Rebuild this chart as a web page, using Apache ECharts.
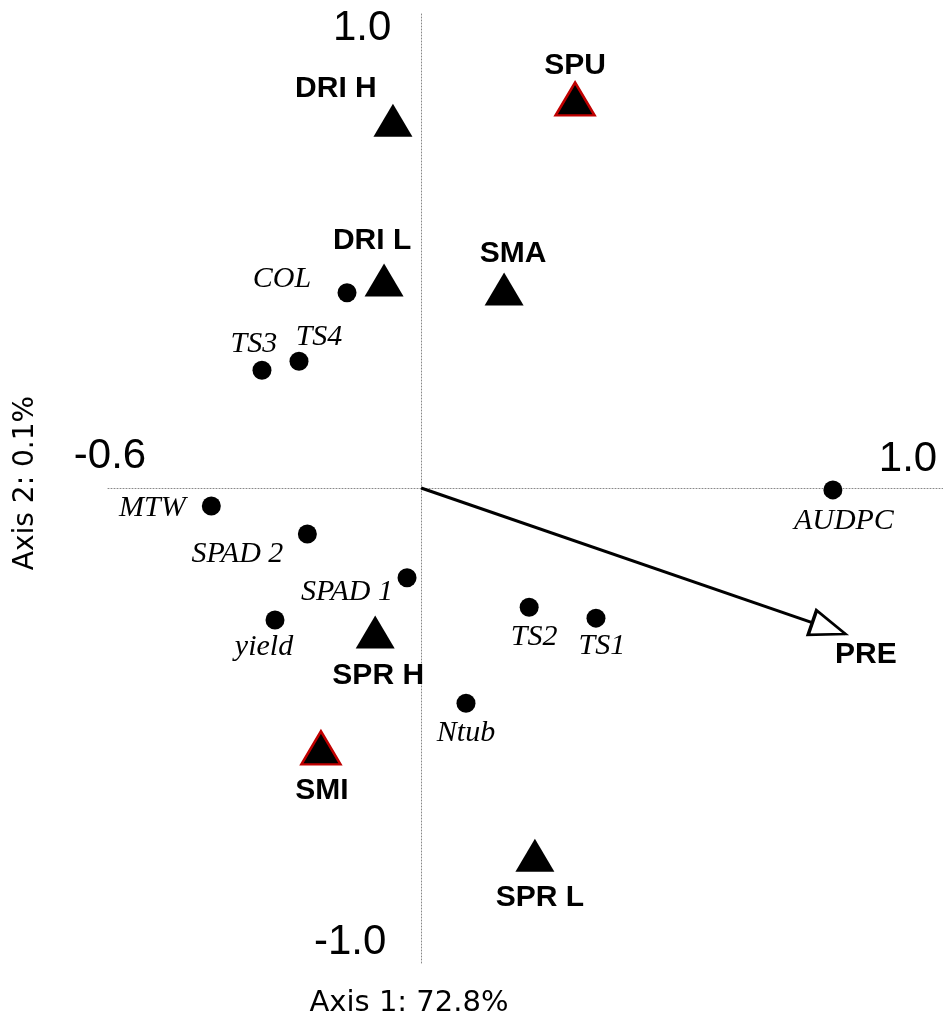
<!DOCTYPE html>
<html>
<head>
<meta charset="utf-8">
<title>Biplot</title>
<script src="https://cdn.jsdelivr.net/npm/echarts@6.0.0/dist/echarts.min.js"></script>
<style>
  html, body { margin: 0; padding: 0; background: #fff; }
  #chart { width: 943px; height: 1021px; }
</style>
</head>
<body>
<div id="chart"></div>
<script>
	"use strict";

	// sites (triangles)
	const siteNames = ["DRI H", "SPU", "DRI L", "SMA", "SPR H", "SMI", "SPR L"];
	const siteX = [-0.054, 0.295, -0.071, 0.159, -0.088, -0.192, 0.218];
	const siteY = [0.774, 0.819, 0.438, 0.419, -0.303, -0.547, -0.773];
	const redOutlined = ["SPU", "SMI"];

	// response variables (dots)
	const varNames = ["COL", "TS3", "TS4", "MTW", "SPAD 2", "SPAD 1", "yield", "TS2", "TS1", "Ntub", "AUDPC"];
	const varX = [-0.142, -0.305, -0.234, -0.402, -0.218, -0.027, -0.280, 0.207, 0.335, 0.086, 0.789];
	const varY = [0.411, 0.248, 0.267, -0.038, -0.097, -0.189, -0.278, -0.251, -0.274, -0.453, -0.004];

	// explanatory vector
	const vectorName = "PRE";
	const vectorEnd = [0.812, -0.307];

	// axis end labels
	const tickLabels = ["1.0", "-0.6", "1.0", "-1.0"];
	const tickPos = [[0, 1], [-0.6, 0], [1, 0], [0, -1]];

	const axis1Title = "Axis 1: 72.8%";
	const axis2Title = "Axis 2: 0.1%";

	// label placement (pixel offsets from the point)
	const labelOffset = {
		"DRI H": [-57, -32], "SPU": [0, -33], "DRI L": [-12, -39], "SMA": [9, -35],
		"SPR H": [3, 44], "SMI": [1, 43], "SPR L": [5, 43],
		"COL": [-65, -14], "TS3": [-8, -26], "TS4": [20, -24], "MTW": [-59, 2],
		"SPAD 2": [-70, 20], "SPAD 1": [-60, 14], "yield": [-11, 27],
		"TS2": [5, 30], "TS1": [6, 28], "Ntub": [0, 30], "AUDPC": [11, 31],
		"PRE": [37, 26]
	};
	const tickOffset = [[-59, 15], [2, -32], [-35, -29], [-71, -21]];

	const chart = echarts.init(document.getElementById("chart"), null, { renderer: "canvas" });

	const siteData = siteNames.map(function (n, i) {
		const item = {
			name: n,
			value: [siteX[i], siteY[i]],
			label: { offset: labelOffset[n] }
		};
		if (redOutlined.indexOf(n) >= 0) {
			item.itemStyle = { borderColor: "#c00000", borderWidth: 2.5 };
		}
		return item;
	});

	const varData = varNames.map(function (n, i) {
		return { name: n, value: [varX[i], varY[i]], label: { offset: labelOffset[n] } };
	});

	const tickData = tickLabels.map(function (t, i) {
		return { name: t, value: tickPos[i], label: { offset: tickOffset[i] } };
	});

	const dottedAxis = {
		show: true,
		onZero: true,
		lineStyle: { color: "#888", width: 1, type: [1, 2] }
	};

	const option = {
		animation: false,
		backgroundColor: "#fff",
		grid: { left: 108, right: 0, top: 13, bottom: 58 },
		xAxis: {
			type: "value", min: -0.6, max: 1.0,
			axisLine: dottedAxis, axisTick: { show: false },
			axisLabel: { show: false }, splitLine: { show: false }
		},
		yAxis: {
			type: "value", min: -1, max: 1,
			axisLine: dottedAxis, axisTick: { show: false },
			axisLabel: { show: false }, splitLine: { show: false }
		},
		graphic: [
			{
				type: "text", x: 409, y: 1003, silent: true,
				style: {
					text: axis1Title, font: "29px 'DejaVu Sans'", fill: "#000",
					align: "center", verticalAlign: "middle"
				}
			},
			{
				type: "text", x: 26, y: 483, rotation: Math.PI / 2, silent: true,
				style: {
					text: axis2Title, font: "28px 'DejaVu Sans'", fill: "#000",
					align: "center", verticalAlign: "middle"
				}
			}
		],
		series: [
			{
				// PRE arrow, open head at the tip
				type: "line",
				silent: true,
				z: 3,
				data: [
					{ value: [0, 0], symbol: "none" },
					{
						name: vectorName,
						value: vectorEnd,
						symbol: "triangle",
						symbolSize: [26, 35],
						symbolRotate: -109,
						symbolOffset: [-16, -5.5],
						label: {
							show: true, position: "inside", offset: labelOffset[vectorName],
							formatter: "{b}", color: "#000",
							fontFamily: "Liberation Sans", fontWeight: "bold", fontSize: 30
						}
					}
				],
				lineStyle: { color: "#000", width: 3 },
				itemStyle: { color: "#fff", borderColor: "#000", borderWidth: 3, opacity: 1 },
				showAllSymbol: true
			},
			{
				type: "scatter",
				silent: true,
				z: 4,
				symbol: "circle",
				symbolSize: 19,
				itemStyle: { color: "#000", opacity: 1 },
				label: {
					show: true, position: "inside", formatter: "{b}", color: "#000",
					fontFamily: "Liberation Serif", fontStyle: "italic", fontSize: 30
				},
				data: varData
			},
			{
				type: "scatter",
				silent: true,
				z: 5,
				symbol: "triangle",
				symbolSize: [39, 33],
				itemStyle: { color: "#000", opacity: 1 },
				label: {
					show: true, position: "inside", formatter: "{b}", color: "#000",
					fontFamily: "Liberation Sans", fontWeight: "bold", fontSize: 30
				},
				data: siteData
			},
			{
				// axis end values
				type: "scatter",
				silent: true,
				symbolSize: 0.1,
				itemStyle: { color: "#fff", opacity: 1 },
				label: {
					show: true, position: "inside", formatter: "{b}", color: "#000",
					fontFamily: "Liberation Sans", fontSize: 42
				},
				data: tickData
			}
		]
	};

	chart.setOption(option);
</script>
</body>
</html>
